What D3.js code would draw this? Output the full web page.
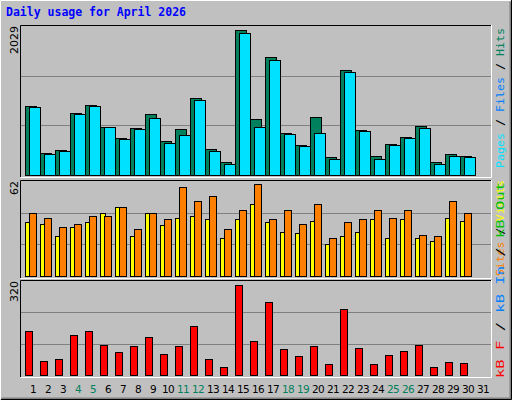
<!DOCTYPE html>
<html><head><meta charset="utf-8">
<script src="https://cdn.jsdelivr.net/npm/d3@7"></script>
<style>body{margin:0;background:#fff}svg{display:block}</style>
</head><body><svg id="c" width="512" height="400"></svg>
<script>
const days = d3.range(1, 32);
const weekend = [4,5,11,12,18,19,25,26];
const hits  = [945,299,339,847,959,660,504,638,825,464,624,1052,357,178,1975,758,1601,571,410,785,250,1427,611,263,424,517,664,178,290,263];
const files = [927,285,326,834,941,647,490,620,780,433,540,1021,326,152,1931,660,1570,553,392,571,218,1409,593,218,406,499,638,152,259,245];
const visits= [35,34,26,32,35,41,45,26,41,33,38,39,37,25,37,47,35,29,28,36,21,26,29,37,25,37,25,23,38,36];
const sites = [41,38,32,34,39,39,45,31,41,37,58,49,52,31,43,60,37,43,34,47,25,35,37,43,38,43,27,26,49,41];
const kbytes= [149,48,55,135,149,102,78,98,129,72,98,166,55,28,307,115,250,88,65,98,38,223,92,38,68,82,102,28,45,41];
const maxTop = 2029, maxMid = 62, maxBot = 320;

const svg = d3.select("#c");
svg.append("rect").attr("x",0).attr("y",0).attr("width",512).attr("height",400).attr("fill","#c0c0c0");
svg.append("path").attr("d","M0.5,399.5V0.5H511.5").attr("stroke","#fff").attr("fill","none");
svg.append("path").attr("d","M1.5,398.5H510.5V1.5").attr("stroke","#808080").attr("fill","none").attr("stroke-width",2);
svg.append("path").attr("d","M1,399.5H511.5V0").attr("stroke","#000").attr("fill","none");

svg.append("text").attr("x",6).attr("y",16).text("Daily usage for April 2026")
  .attr("font-family","DejaVu Sans Mono").attr("font-weight","bold").attr("font-size",11.5).attr("fill","#0000ff");

const x = d3.scaleBand().domain(days).range([22, 487]).paddingInner(0).paddingOuter(0);
const X0 = 20, X1 = 491;

function panel(y0, y1, max){
  const y = d3.scaleLinear().domain([0, max]).range([y1, y0+1]);
  svg.append("rect").attr("x",X0).attr("y",y0).attr("width",X1-X0).attr("height",y1-y0+2).attr("fill","#c0c0c0");
  svg.append("path").attr("d",`M${X0+.5},${y1+2}V${y0+.5}H${X1}`).attr("stroke","#000").attr("fill","none");
  svg.append("path").attr("d",`M${X0+.5},${y1+2.5}H${X1+.5}V${y0}`).attr("stroke","#fff").attr("fill","none");
  [max/3, 2*max/3].forEach(v=>{
    svg.append("line").attr("x1",X0+1).attr("x2",X1).attr("y1",Math.round(y(v))+.5).attr("y2",Math.round(y(v))+.5)
      .attr("stroke","#808080");
  });
  return y;
}
function bars(data, y, dx, w, fill){
  svg.append("g").selectAll("rect").data(data).join("rect")
    .attr("x",(d,i)=>x(days[i])+dx+.5).attr("width",w)
    .attr("y",d=>Math.round(y(d))+.5).attr("height",d=>y(0)-Math.round(y(d)))
    .attr("fill",fill).attr("stroke","#000");
}
function leftLabel(txt, yTop){
  svg.append("text").attr("transform",`translate(18,${yTop}) rotate(-90)`).attr("text-anchor","end")
    .attr("font-family","DejaVu Sans").attr("font-size",11).attr("fill","#000").text(txt);
}
function rightLabel(parts, yBot, len){
  const t = svg.append("text").attr("transform",`translate(504,${yBot}) rotate(-90)`)
    .attr("font-family","DejaVu Sans Mono").attr("font-size",10.5)
    .attr("textLength",len).attr("lengthAdjust","spacingAndGlyphs");
  parts.forEach(p=>t.append("tspan").attr("fill",p[1]).text(p[0]));
}

const yT = panel(25, 175, maxTop);
bars(hits, yT, 3, 11, "#00805c");
bars(files, yT, 7, 11, "#00e0ff");
leftLabel(String(maxTop), 26);
rightLabel([["Pages","#00e0ff"],[" / ","#000"],["Files","#0080ff"],[" / ","#000"],["Hits","#00805c"]], 168, 140);

const yM = panel(180, 276, maxMid);
bars(visits, yM, 3, 5, "#ffff00");
bars(sites, yM, 7, 7, "#ff8000");
leftLabel(String(maxMid), 181);
rightLabel([["Sites","#ff8000"],[" / ","#000"],["Visits","#ffff00"]], 276, 96);

const yB = panel(280, 375, maxBot);
bars(kbytes, yB, 3, 7, "#ff0000");
leftLabel(String(maxBot), 281);
rightLabel([["kB F","#ff0000"],[" / ","#000"],["kB In","#0080ff"],[" / ","#000"],["kB Out","#00c000"]], 378, 196);

svg.append("g").selectAll("text").data(days).join("text")
  .attr("x",d=>x(d)+11).attr("y",393).attr("text-anchor","middle")
  .attr("font-family","DejaVu Sans").attr("font-size",10.5).attr("letter-spacing",-0.6)
  .attr("fill",d=>weekend.includes(d)?"#00805c":"#000").text(d=>d);
</script></body></html>
